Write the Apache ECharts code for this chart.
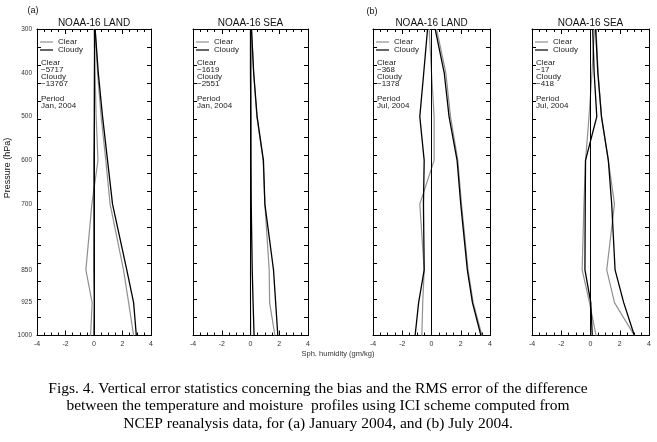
<!DOCTYPE html>
<html><head><meta charset="utf-8">
<script src="https://cdn.jsdelivr.net/npm/echarts@6/dist/echarts.min.js"></script>
<style>html,body{margin:0;padding:0;background:#fff}#c{width:657px;height:442px}</style>
</head><body><div id="c"></div>
<script>
// Pressure levels (hPa)
const levels = [300, 400, 500, 600, 700, 850, 925, 1000];
const pressureLabels = [300, 400, 500, 600, 700, 850, 925, 1000];

// (a) January 2004, LAND
const janLandClearBias  = [0.00, 0.07, 0.15, 0.28, -0.15, -0.57, -0.13, -0.24];
const janLandCloudyBias = [0.05, 0.03, 0.02, 0.00, 0.00, 0.00, 0.02, 0.00];
const janLandClearRms   = [0.08, 0.25, 0.50, 0.83, 1.13, 2.07, 2.43, 2.78];
const janLandCloudyRms  = [0.08, 0.30, 0.60, 0.95, 1.30, 2.30, 2.78, 2.97];
// (a) January 2004, SEA
const janSeaClearBias  = [0.05, 0.05, 0.04, 0.03, 0.02, 0.00, 0.00, 0.02];
const janSeaCloudyBias = [0.00, 0.00, 0.02, 0.03, 0.05, 0.12, 0.18, 0.25];
const janSeaClearRms   = [0.07, 0.22, 0.44, 0.88, 1.00, 1.30, 1.33, 1.70];
const janSeaCloudyRms  = [0.07, 0.22, 0.46, 0.90, 1.00, 1.60, 1.75, 1.90];
// (b) July 2004, LAND
const julLandClearBias  = [-0.16, 0.00, 0.18, 0.18, -0.80, -0.50, -0.60, -0.66];
const julLandCloudyBias = [-0.27, -0.53, -0.80, -0.50, -0.55, -0.50, -0.88, -1.12];
const julLandClearRms   = [0.35, 0.98, 1.30, 1.80, 2.05, 2.50, 2.85, 3.45];
const julLandCloudyRms  = [0.25, 0.87, 1.20, 1.75, 2.00, 2.45, 2.80, 3.38];
// (b) July 2004, SEA
const julSeaClearBias  = [0.27, 0.10, -0.10, -0.34, -0.45, -0.57, -0.07, 0.38];
const julSeaCloudyBias = [0.15, 0.25, 0.43, -0.34, -0.36, -0.38, 0.02, 0.12];
const julSeaClearRms   = [0.38, 0.52, 0.75, 1.22, 1.64, 1.11, 1.64, 3.00];
const julSeaCloudyRms  = [0.35, 0.50, 0.75, 1.22, 1.45, 1.68, 2.27, 3.00];

const panelTitles = ['NOAA-16 LAND', 'NOAA-16 SEA', 'NOAA-16 LAND', 'NOAA-16 SEA'];
const clearCounts = ['\u22125717', '\u22121619', '\u2212368', '\u221217'];
const cloudyCounts = ['\u221213767', '\u22122551', '\u22121378', '\u2212418'];
const periods = ['Jan, 2004', 'Jan, 2004', 'Jul, 2004', 'Jul, 2004'];
const captionLines = [
  'Figs. 4. Vertical error statistics concerning the bias and the RMS error of the difference',
  'between the temperature and moisture  profiles using ICI scheme computed from',
  'NCEP reanalysis data, for (a) January 2004, and (b) July 2004.'
];

const panelData = [
  [janLandClearBias, janLandCloudyBias, janLandClearRms, janLandCloudyRms],
  [janSeaClearBias, janSeaCloudyBias, janSeaClearRms, janSeaCloudyRms],
  [julLandClearBias, julLandCloudyBias, julLandClearRms, julLandCloudyRms],
  [julSeaClearBias, julSeaCloudyBias, julSeaClearRms, julSeaCloudyRms]
];

const GRAY = '#909090', BLACK = '#000';
const FONT = 'Liberation Sans, Arial, sans-serif';
const gridBoxes = [
  {left: 37, width: 114},
  {left: 193, width: 115},
  {left: 373, width: 117},
  {left: 532, width: 117}
];
const TOP = 29, HEIGHT = 306.5;

const grid = [], xAxis = [], yAxis = [], series = [], legend = [], graphic = [];

gridBoxes.forEach((g, i) => {
  grid.push({left: g.left, top: TOP, width: g.width, height: HEIGHT, containLabel: false});
  const xBase = {
    gridIndex: i, type: 'value', min: -4, max: 4, interval: 2,
    axisLine: {show: true, onZero: false, lineStyle: {color: BLACK, width: 1}},
    axisTick: {show: true, inside: true, length: 5, lineStyle: {color: BLACK, width: 1}},
    minorTick: {show: true, splitNumber: 4, length: 3, lineStyle: {color: BLACK, width: 1}},
    splitLine: {show: false}, minorSplitLine: {show: false}
  };
  xAxis.push(Object.assign({}, xBase, {position: 'bottom',
    axisLabel: {show: true, fontSize: 7, color: '#333', margin: 5, fontFamily: FONT}}));
  xAxis.push(Object.assign({}, xBase, {position: 'top', axisLabel: {show: false}}));

  yAxis.push({
    gridIndex: i, type: 'value', inverse: true, min: 300, max: 1000, interval: 25, position: 'left',
    axisLine: {show: true, onZero: false, lineStyle: {color: BLACK, width: 1}},
    axisTick: {show: false}, splitLine: {show: false},
    axisLabel: {show: i === 0, fontSize: 6.5, color: '#333', margin: 5, fontFamily: FONT,
      formatter: v => pressureLabels.indexOf(v) >= 0 ? String(v) : ''}
  });
  const yTick = {
    gridIndex: i, type: 'value', min: 0, max: 17, interval: 1,
    axisTick: {show: true, inside: true, length: 4, lineStyle: {color: BLACK, width: 1}},
    axisLabel: {show: false}, splitLine: {show: false}
  };
  yAxis.push(Object.assign({}, yTick, {position: 'left', axisLine: {show: false, onZero: false}}));
  yAxis.push(Object.assign({}, yTick, {position: 'right',
    axisLine: {show: true, onZero: false, lineStyle: {color: BLACK, width: 1}}}));

  const d = panelData[i];
  const names = ['Clear', 'Cloudy', 'Clear', 'Cloudy'];
  const colors = [GRAY, BLACK, GRAY, BLACK];
  d.forEach((arr, k) => {
    const s = {
      name: names[k], type: 'line', xAxisIndex: 2 * i, yAxisIndex: 3 * i,
      data: levels.map((p, j) => [arr[j], p]),
      symbol: 'none', showSymbol: false, silent: true, animation: false,
      lineStyle: {color: colors[k], width: colors[k] === BLACK ? 1.3 : 1.2},
      itemStyle: {color: colors[k]}, z: colors[k] === BLACK ? 3 : 2
    };
    if (k === 0) {
      s.markLine = {silent: true, symbol: 'none', animation: false, label: {show: false},
        lineStyle: {color: BLACK, width: 1, type: 'solid'}, data: [{xAxis: 0}]};
    }
    series.push(s);
  });

  legend.push({
    data: ['Clear', 'Cloudy'], left: g.left + 3, top: 38, orient: 'vertical',
    icon: 'rect', itemWidth: 13, itemHeight: 1.2, itemGap: 0, padding: 0, selectedMode: false,
    textStyle: {fontSize: 8, color: '#222', fontFamily: FONT, lineHeight: 8}
  });

  graphic.push({
    type: 'text', left: g.left + 4, top: 58.4, silent: true,
    style: {text: ['Clear', clearCounts[i], 'Cloudy', cloudyCounts[i], '', 'Period', periods[i]].join('\n'),
      font: '8px ' + FONT, lineHeight: 7.2, fill: '#222'}
  });
  graphic.push({
    type: 'text', x: g.left + g.width / 2, y: 23, silent: true,
    style: {text: panelTitles[i], font: '10px ' + FONT, fill: '#111', align: 'center', verticalAlign: 'middle'}
  });
});

graphic.push({type: 'text', x: 33, y: 11, silent: true,
  style: {text: '(a)', font: '9px ' + FONT, fill: '#111', align: 'center', verticalAlign: 'middle'}});
graphic.push({type: 'text', x: 372, y: 12, silent: true,
  style: {text: '(b)', font: '9px ' + FONT, fill: '#111', align: 'center', verticalAlign: 'middle'}});
graphic.push({type: 'text', x: 8, y: 168, rotation: Math.PI / 2, silent: true,
  style: {text: 'Pressure (hPa)', font: '9px ' + FONT, fill: '#111', align: 'center', verticalAlign: 'middle'}});
graphic.push({type: 'text', x: 338, y: 354, silent: true,
  style: {text: 'Sph. humidity (gm/kg)', font: '7.5px ' + FONT, fill: '#333', align: 'center', verticalAlign: 'middle'}});
captionLines.forEach((t, k) => {
  graphic.push({type: 'text', x: 318, y: 389 + k * 17.3, silent: true,
    style: {text: t, font: '15.5px Liberation Serif, Times New Roman, serif', fill: '#000', align: 'center', verticalAlign: 'middle'}});
});

const chart = echarts.init(document.getElementById('c'), null, {renderer: 'canvas'});
chart.setOption({
  backgroundColor: '#fff', animation: false,
  grid, xAxis, yAxis, series, legend, graphic
});
</script></body></html>
